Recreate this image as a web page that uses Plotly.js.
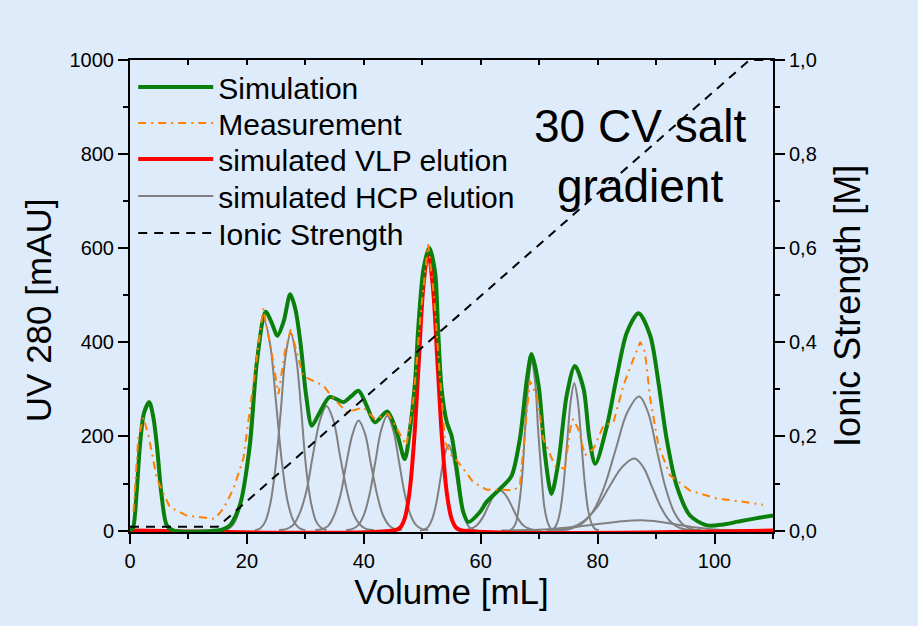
<!DOCTYPE html>
<html>
<head>
<meta charset="utf-8">
<script src="https://cdn.plot.ly/plotly-3.0.1.min.js"></script>
<style>html,body{margin:0;padding:0;background:#deebfa;}#chart{width:918px;height:626px;}</style>
</head>
<body>
<div id="chart"></div>
<script>
// Simulation (green)
const simX = [0,0.5,1.1,1.7,2.4,3.3,4.0,4.6,5.4,6.3,7.5,15,16,17.1,18.8,20.5,21.7,23.2,24.3,25.2,26.3,27.4,28.3,29.2,30.1,31.1,32.2,34.2,36.5,37.8,39.1,40.5,41.9,44,45.6,47,47.9,48.8,49.3,50.2,51.2,52.2,52.7,53.3,54.2,55,55.9,57,57.9,59.9,61,63.9,65.3,66.7,67.9,68.7,69.9,71,72.1,73.3,74.7,76.1,77.6,78.6,79.6,81.6,83.3,85,87,89,90.4,91.8,93.5,95.8,98.7,101.5,104,107,110];
const simY = [0,5,75,181,250,273,240,181,75,11,0,0,3,11,54,181,357,465,440,414,445,502,470,395,290,223,245,284,273,285,297,265,230,253,210,152,216,322,428,555,601,548,428,301,230,202,131,40,18,40,61,96,117,195,322,375,308,160,78,146,287,350,301,195,142,223,329,421,462,414,315,195,96,32,11,13,19,26,32];
// Measurement (orange)
const measX = [0.6,1.4,2.3,3.2,4.6,6.8,9.7,14.5,16,17.7,19.4,21,22.8,24.2,25.4,26.5,27.5,28.5,29.6,31,33.1,34.2,37.1,39.9,41.9,44.2,47.3,48.5,49.8,51,52,53,53.9,55,56.2,58.7,61,63.9,65.6,66.7,67.6,68.4,69.6,70.7,72.7,74.4,75.3,75.8,76.7,77.8,79.3,81,82.7,84.4,86.1,87.3,88.1,89,90.4,92.4,95.8,100.4,104.5,108.3];
const measY = [40,195,240,200,110,50,32,25,47,89,153,300,472,380,290,380,428,380,329,320,308,290,251,262,237,248,181,280,470,608,500,330,188,160,145,103,87,87,85,96,216,318,287,195,138,131,216,237,216,160,174,223,230,308,364,401,379,280,181,117,85,68,62,55];
// simulated VLP elution (red)
const vlpX = [0,45.4,46.2,47.0,47.8,48.6,49.4,50.2,51.0,51.8,52.6,53.4,54.2,55.0,55.8,56.6,110];
const vlpY = [0,1,6,26,80,191,358,520,590,520,358,191,80,26,6,1,0];
// simulated HCP elution (grey), one pair per peak
const hcp1X = [16,17,18,19,20,21,22,23,24,25,26,27,28,29,30];
const hcp1Y = [1,5,20,60,144,270,393,445,393,270,144,60,20,5,1];
const hcp2X = [21.4,22.3,23.1,24.0,24.9,25.8,26.6,27.5,28.4,29.3,30.1,31.0,31.9,32.8,33.6];
const hcp2Y = [1,5,18,57,136,255,370,420,370,255,136,57,18,5,1];
const hcp3X = [25.5,26.7,27.9,29.0,30.2,31.3,32.5,33.6,34.8,35.9,37.1,38.2,39.4,40.5,41.7];
const hcp3Y = [1,3,12,36,85,161,234,265,234,161,85,36,12,3,1];
const hcp4X = [31.7,32.8,33.9,34.9,36.0,37.0,38.1,39.1,40.2,41.2,42.3,43.3,44.4,45.4,46.5];
const hcp4Y = [1,3,10,32,75,142,206,234,206,142,75,32,10,3,1];
const hcp5X = [37,38,39,40,41,42,43,44,45,46,47,48,49,50,51];
const hcp5Y = [1,3,11,33,78,148,215,244,215,148,78,33,11,3,1];
const hcp6X = [49.6,50.3,51.0,51.7,52.4,53.1,53.8,54.5,55.2,55.9,56.6,57.3,58.0,58.7,59.4];
const hcp6Y = [0,2,8,25,58,110,160,182,160,110,58,25,8,2,0];
const hcp7X = [56.3,57.3,58.3,59.3,60.3,61.3,62.3,63.3,64.3,65.3,66.3,67.3,68.3,69.3,70.3];
const hcp7Y = [0,1,4,11,27,52,75,85,75,52,27,11,4,1,0];
const hcp8X = [64.9,65.4,66.0,66.5,67.1,67.6,68.2,68.7,69.3,69.8,70.4,70.9,71.5,72.0,72.6];
const hcp8Y = [1,4,16,49,117,218,318,360,318,218,117,49,16,4,1];
const hcp9X = [71.8,72.4,73.0,73.6,74.2,74.8,75.4,76.0,76.6,77.2,77.8,78.4,79.0,79.6,80.2];
const hcp9Y = [1,3,14,42,101,190,276,313,276,190,101,42,14,3,1];
const hcp10X = [73.1,75.1,77.1,79.1,81.1,83.1,85.1,87.1,88.6,90.1,91.6,93.1,94.6,96.1,97.6];
const hcp10Y = [1,3,13,39,92,173,252,285,252,173,92,39,13,3,1];
const hcp11X = [71.3,73.4,75.6,77.7,79.9,82.0,84.2,86.3,87.8,89.3,90.8,92.3,93.8,95.3,96.8];
const hcp11Y = [0,2,7,21,50,93,135,153,135,93,50,21,7,2,0];
const hcp12X = [63.5,67.5,71.5,75.5,79.5,83.5,87.5,90.5,93.5,96.5,99.5,102.5,105.5];
const hcp12Y = [0,1,3,7,13,19,22,19,13,7,3,1,0];
// Ionic strength (right axis)
const ionX = [0,15,106,110];
const ionY = [0.008,0.008,1.0,1.0];

const xTickVals = [0,20,40,60,80,100];
const xTickText = ['0','20','40','60','80','100'];
const yTickVals = [0,200,400,600,800,1000];
const yTickText = ['0','200','400','600','800','1000'];
const y2TickVals = [0,0.2,0.4,0.6,0.8,1.0];
const y2TickText = ['0,0','0,2','0,4','0,6','0,8','1,0'];

const names = ['Simulation','Measurement','simulated VLP elution','simulated HCP elution','Ionic Strength'];
const annText = '30 CV salt<br>gradient';
const xTitle = 'Volume [mL]';
const yTitle = 'UV 280 [mAU]';
const y2Title = 'Ionic Strength [M]';

const FONT = 'Liberation Sans, Arial, sans-serif';
const hcpSets = [[hcp1X,hcp1Y],[hcp2X,hcp2Y],[hcp3X,hcp3Y],[hcp4X,hcp4Y],[hcp5X,hcp5Y],[hcp6X,hcp6Y],[hcp7X,hcp7Y],[hcp8X,hcp8Y],[hcp9X,hcp9Y],[hcp10X,hcp10Y],[hcp11X,hcp11Y],[hcp12X,hcp12Y]];

const traces = [];
hcpSets.forEach((s,i) => {
  traces.push({x:s[0], y:s[1], type:'scatter', mode:'lines', name:names[3], legend:'legend4',
    line:{color:'#808080', width:2, shape:'spline'}, showlegend:i===0});
});
traces.push({x:vlpX, y:vlpY, type:'scatter', mode:'lines', name:names[2], legend:'legend3',
  line:{color:'#ff0000', width:4, shape:'spline'}});
traces.push({x:simX, y:simY, type:'scatter', mode:'lines', name:names[0], legend:'legend',
  line:{color:'#0a800a', width:4, shape:'spline', smoothing:0.8}});
traces.push({x:measX, y:measY, type:'scatter', mode:'lines', name:names[1], legend:'legend2',
  line:{color:'#ff8000', width:2, dash:'8px,5px,2px,5px'}});
traces.push({x:ionX, y:ionY, type:'scatter', mode:'lines', name:names[4], xaxis:'x2', yaxis:'y2', legend:'legend5',
  line:{color:'#000000', width:2, dash:'9px,7px'}});

// legend row centres (pixels from top of figure)
const legendRows = [87,123,159,196,233];
const legendCommon = {x:0.005, xanchor:'left', yanchor:'middle', bgcolor:'rgba(0,0,0,0)',
  font:{size:30, family:FONT, color:'#000'}, itemwidth:75};
function legendAt(rowPx){ return Object.assign({}, legendCommon, {y:(532-rowPx)/472}); }

const layout = {
  width:918, height:626,
  paper_bgcolor:'#deebfa', plot_bgcolor:'#deebfa',
  margin:{l:130, r:145, t:60, b:94},
  font:{family:FONT, color:'#000'},
  showlegend:true,
  legend:legendAt(legendRows[0]),
  legend2:legendAt(legendRows[1]),
  legend3:legendAt(legendRows[2]),
  legend4:legendAt(legendRows[3]),
  legend5:legendAt(legendRows[4]),
  xaxis:{range:[0,110], tickvals:xTickVals, ticktext:xTickText, ticks:'outside', ticklen:10, tickwidth:2,
    tickcolor:'#000', showline:true, linewidth:2, linecolor:'#000', showgrid:false, zeroline:false,
    minor:{dtick:10, tick0:0, ticks:'outside', ticklen:5, tickwidth:2, tickcolor:'#000'},
    tickfont:{size:20}, title:{text:xTitle, font:{size:35}, standoff:0}},
  xaxis2:{range:[0,110], overlaying:'x', side:'top', anchor:'y2', dtick:10, tick0:0, ticks:'inside', ticklen:5,
    tickwidth:2, tickcolor:'#000', showticklabels:false, showline:true, linewidth:2, linecolor:'#000',
    showgrid:false, zeroline:false},
  yaxis:{range:[-3,1000], tickvals:yTickVals, ticktext:yTickText, ticks:'outside', ticklen:10, tickwidth:2,
    tickcolor:'#000', showline:true, linewidth:2, linecolor:'#000', showgrid:false, zeroline:false,
    minor:{dtick:100, tick0:0, ticks:'outside', ticklen:5, tickwidth:2, tickcolor:'#000'},
    tickfont:{size:20}},
  yaxis2:{range:[-0.003,1.0], overlaying:'y', side:'right', anchor:'x2', tickvals:y2TickVals, ticktext:y2TickText,
    ticks:'outside', ticklen:10, tickwidth:2, tickcolor:'#000', showline:true, linewidth:2, linecolor:'#000',
    showgrid:false, zeroline:false,
    minor:{dtick:0.1, tick0:0, ticks:'outside', ticklen:5, tickwidth:2, tickcolor:'#000'},
    tickfont:{size:20}},
  annotations:[
    {x:87.2, y:795, xref:'x', yref:'y', text:annText, showarrow:false,
     font:{size:46, family:FONT, color:'#000'}, xanchor:'center', yanchor:'middle', align:'center'},
    {x:-0.143, y:0.47, xref:'paper', yref:'paper', text:yTitle, textangle:-90, showarrow:false,
     font:{size:35, family:FONT, color:'#000'}, xanchor:'center', yanchor:'middle'},
    {x:1.1166, y:0.479, xref:'paper', yref:'paper', text:y2Title, textangle:-90, showarrow:false,
     font:{size:36, family:FONT, color:'#000'}, xanchor:'center', yanchor:'middle'}
  ]
};

Plotly.newPlot('chart', traces, layout, {displayModeBar:false, staticPlot:true});
</script>
</body>
</html>
